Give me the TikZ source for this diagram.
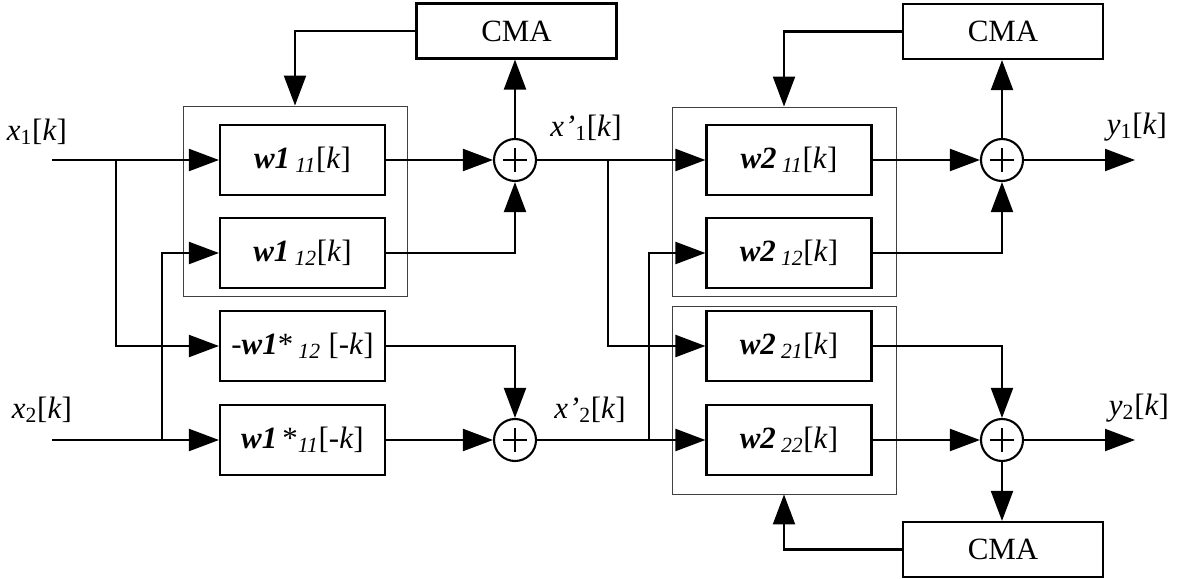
\documentclass[tikz,border=0pt]{standalone}
\usepackage{fontspec}
\setmainfont{Liberation Serif}
\usetikzlibrary{arrows.meta}

\newcommand{\wsub}[1]{\,\textsubscript{\textit{#1}}}

\begin{document}
\begin{tikzpicture}[x=0.025cm, y=-0.025cm, line width=1.5pt,
    >={Triangle[length=0.75cm,width=0.55cm]},
    font=\fontsize{22}{26}\selectfont,
    blk/.style={draw, minimum width=4.125cm, minimum height=1.75cm, inner sep=0pt},
    cma/.style={draw, minimum width=5cm, minimum height=1.375cm, inner sep=0pt},
    frame/.style={draw=black!75, line width=0.6pt, minimum width=5.6cm, inner sep=0pt},
    sum/.style={draw, circle, minimum size=1.05cm, inner sep=0pt,
        path picture={\draw[line width=1.5pt]
            ([xshift=-0.29cm]path picture bounding box.center) -- ([xshift=0.29cm]path picture bounding box.center)
            ([yshift=-0.29cm]path picture bounding box.center) -- ([yshift=0.29cm]path picture bounding box.center);}}]
    \useasboundingbox (0,0) rectangle (1178,579);

    % Frames round the filter pairs
    \node[frame, minimum height=4.75cm] (fa) at (295,201) {};
    \node[frame, minimum height=4.725cm] (fb1) at (784,201.5) {};
    \node[frame, minimum height=4.7cm] (fb2) at (784,400) {};

    % First stage filters
    \node[blk] (wa11) at (302.5,160) {\textbf{\textit{w1}}\wsub{11}[\textit{k}]};
    \node[blk] (wa12) at (302.5,253) {\textbf{\textit{w1}}\wsub{12}[\textit{k}]};
    \node[blk] (va12) at (302.5,346) {-\textbf{\textit{w1}}*\wsub{12} [-\textit{k}]};
    \node[blk] (va11) at (302.5,440) {\textbf{\textit{w1}}\,*\textsubscript{\textit{11}}[-\textit{k}]};

    % Second stage filters
    \node[blk] (wb11) at (789,160) {\textbf{\textit{w2}}\wsub{11}[\textit{k}]};
    \node[blk] (wb12) at (789,253) {\textbf{\textit{w2}}\wsub{12}[\textit{k}]};
    \node[blk] (wb21) at (789,346) {\textbf{\textit{w2}}\wsub{21}[\textit{k}]};
    \node[blk] (wb22) at (789,440) {\textbf{\textit{w2}}\wsub{22}[\textit{k}]};

    % Adders
    \node[sum] (sa1) at (515,160) {};
    \node[sum] (sa2) at (515,440) {};
    \node[sum] (sb1) at (1002,160) {};
    \node[sum] (sb2) at (1002,440) {};

    % CMA blocks
    \node[cma] (cmaA) at (516.5,31) {CMA};
    \node[cma] (cmaB) at (1003,31.5) {CMA};
    \node[cma] (cmaC) at (1003,549.5) {CMA};

    % Inputs, outputs and branch points
    \coordinate (in1) at (52,160);
    \coordinate (in2) at (52,440);
    \coordinate (ba1) at (116,160);
    \coordinate (ba2) at (162,440);
    \coordinate (bb1) at (608,160);
    \coordinate (bb2) at (649,440);
    \coordinate (out1) at (1135,160);
    \coordinate (out2) at (1135,440);

    % Labels
    \node (lx1) at (37,132) {\textit{x}\textsubscript{1}[\textit{k}]};
    \node (lx2) at (42,410) {\textit{x}\textsubscript{2}[\textit{k}]};
    \node (lxp1) at (586,128) {\textit{x\kern0.03em'}\textsubscript{1}[\textit{k}]};
    \node (lxp2) at (590,410) {\textit{x\kern0.03em'}\textsubscript{2}[\textit{k}]};
    \node (ly1) at (1137,127) {\textit{y}\textsubscript{1}[\textit{k}]};
    \node (ly2) at (1139,408) {\textit{y}\textsubscript{2}[\textit{k}]};

    % First stage wiring
    \draw[->] (in1) -- (wa11.west);
    \draw[->] (in2) -- (va11.west);
    \draw[->] (ba1) |- (va12.west);
    \draw[->] (ba2) |- (wa12.west);
    \draw[->] (wa11.east) -- (sa1.west);
    \draw[->] (wa12.east) -| (sa1.south);
    \draw[->] (va11.east) -- (sa2.west);
    \draw[->] (va12.east) -| (sa2.north);
    \draw[->] (sa1.north) -- (sa1.north |- cmaA.south);
    \draw[->] (cmaA.west) -| (fa.north);

    % Second stage wiring
    \draw[->] (sa1.east) -- (wb11.west);
    \draw[->] (sa2.east) -- (wb22.west);
    \draw[->] (bb1) |- (wb21.west);
    \draw[->] (bb2) |- (wb12.west);
    \draw[->] (wb11.east) -- (sb1.west);
    \draw[->] (wb12.east) -| (sb1.south);
    \draw[->] (wb22.east) -- (sb2.west);
    \draw[->] (wb21.east) -| (sb2.north);
    \draw[->] (sb1.north) -- (sb1.north |- cmaB.south);
    \draw[->] (sb2.south) -- (sb2.south |- cmaC.north);
    \draw[->] (cmaB.west) -| (fb1.north);
    \draw[->] (cmaC.west) -| (fb2.south);
    \draw[->] (sb1.east) -- (out1);
    \draw[->] (sb2.east) -- (out2);
\end{tikzpicture}
\end{document}
